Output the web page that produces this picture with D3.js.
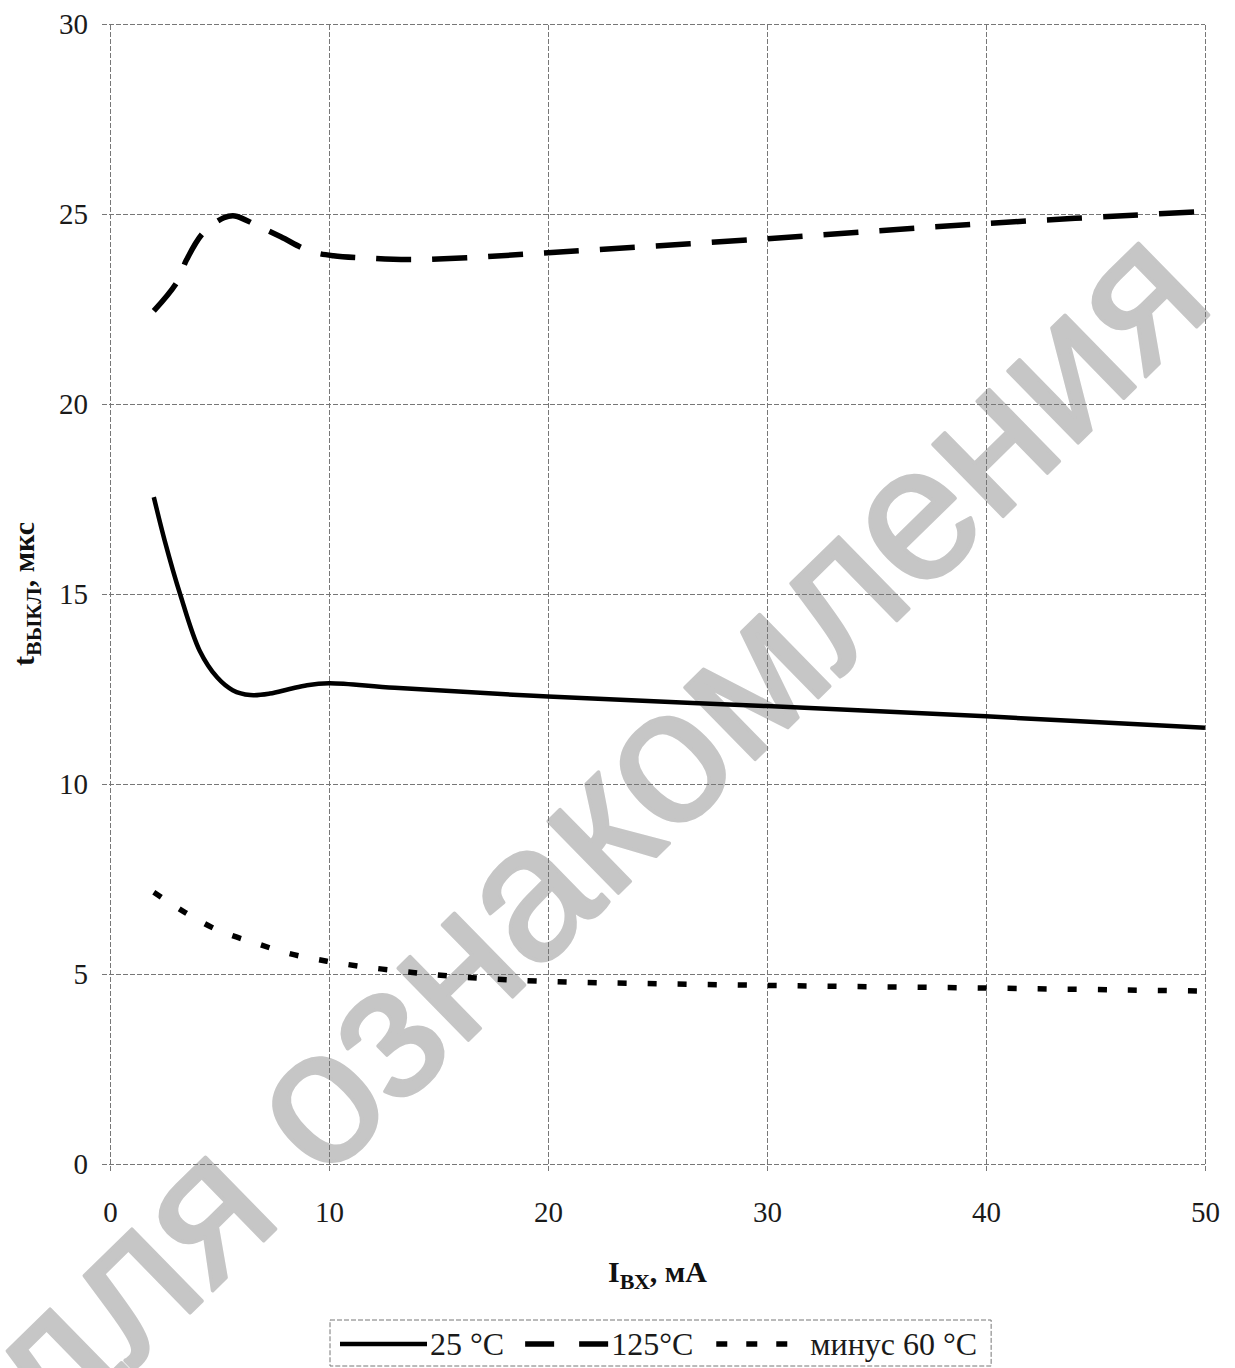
<!DOCTYPE html>
<html>
<head>
<meta charset="utf-8">
<script src="https://cdn.jsdelivr.net/npm/d3@7"></script>
<style>
body { margin: 0; background: #fff; }
svg { display: block; font-family: "Liberation Serif", "Times New Roman", serif; }
</style>
</head>
<body>
<svg id="chart" width="1235" height="1368"></svg>
<script>
(function () {
'use strict';

// values (I вх, мА -> t выкл, мкс)
var seriesNames = ['25 °C', '125°C', 'минус 60 °C'];

var x25 = [2, 2.5, 3.2, 4.1, 4.9, 5.6, 6.4, 7.3, 8.2, 9.0, 10.0, 13, 20, 30, 40, 50];
var y25 = [17.55, 16.4, 15.0, 13.5, 12.8, 12.47, 12.34, 12.38, 12.5, 12.6, 12.65, 12.53, 12.3, 12.05, 11.78, 11.48];

var x125 = [2, 3.05, 3.5, 4.25, 5.2, 5.7, 6.7, 7.8, 9.1, 10.2, 11.7, 13.6, 16.3, 20, 30, 40, 50];
var y125 = [22.45, 23.2, 23.8, 24.5, 24.9, 24.95, 24.7, 24.4, 24.03, 23.9, 23.84, 23.8, 23.85, 23.98, 24.35, 24.75, 25.07];

var xMinus60 = [2, 3.4, 4.9, 6.6, 8.1, 9.4, 10.4, 11.7, 13.2, 14.5, 15.9, 17.4, 20.2, 30, 40, 50];
var yMinus60 = [7.15, 6.63, 6.16, 5.82, 5.55, 5.39, 5.29, 5.18, 5.08, 5.0, 4.93, 4.87, 4.8, 4.7, 4.63, 4.55];

var xTicks = [0, 10, 20, 30, 40, 50];
var yTicks = [0, 5, 10, 15, 20, 25, 30];

var watermarkText = 'для ознакомления';

// styles, kept apart from the data
var lineStyles = [
    { dash: null, width: 4.5, legendLen: 87 },
    { dash: '29,25', width: 5.5, legendLen: 83, plotDash: '35,21' },
    { dash: '11,19', width: 5.5, legendLen: 71, plotDash: '9,21' }
];
var gridColor = '#777';
var gridDash = '5,2';

var svg = d3.select('#chart');
var margin = { top: 24, right: 30, bottom: 204, left: 110 };
var width = +svg.attr('width') - margin.left - margin.right;
var height = +svg.attr('height') - margin.top - margin.bottom;

var x = d3.scaleLinear().domain([0, 50]).range([0, width]);
var y = d3.scaleLinear().domain([0, 30]).range([height, 0]);

// watermark sits behind everything (the scan cuts it at the lower left corner)
svg.append('text')
    .attr('transform', 'translate(601,841) rotate(-44.4)')
    .attr('text-anchor', 'middle')
    .attr('dy', '0.26em')
    .style('font-family', '"Liberation Sans", Arial, sans-serif')
    .style('font-size', '190px')
    .attr('fill', '#c6c6c6')
    .attr('stroke', '#c6c6c6')
    .attr('stroke-width', 3.5)
    .attr('stroke-linejoin', 'round')
    .text(watermarkText);

var g = svg.append('g').attr('transform', 'translate(' + margin.left + ',' + margin.top + ')');

function styleAxis(sel) {
    sel.select('.domain').remove();
    sel.selectAll('.tick line')
        .attr('stroke', gridColor)
        .attr('stroke-width', 1)
        .attr('stroke-dasharray', gridDash);
    sel.selectAll('.tick text')
        .attr('fill', '#1a1a1a')
        .style('font-family', '"Liberation Serif", "Times New Roman", serif')
        .style('font-size', '29px');
}

g.append('g')
    .attr('transform', 'translate(-8,0)')
    .call(d3.axisLeft(y).tickValues(yTicks).tickSize(-(width + 8)).tickPadding(14))
    .call(styleAxis);

g.append('g')
    .attr('transform', 'translate(0,' + (height + 7) + ')')
    .call(d3.axisBottom(x).tickValues(xTicks).tickSize(-(height + 7)).tickPadding(30))
    .call(styleAxis);

var series = [
    d3.zip(x25, y25),
    d3.zip(x125, y125),
    d3.zip(xMinus60, yMinus60)
];

var line = d3.line()
    .x(function (d) { return x(d[0]); })
    .y(function (d) { return y(d[1]); })
    .curve(d3.curveCatmullRom.alpha(0.5));

g.selectAll('path.curve')
    .data(series)
    .enter().append('path')
    .attr('class', 'curve')
    .attr('d', line)
    .attr('fill', 'none')
    .attr('stroke', '#000')
    .attr('stroke-width', function (d, i) { return lineStyles[i].width; })
    .attr('stroke-dasharray', function (d, i) { return lineStyles[i].plotDash || null; });

// axis titles
var xTitle = svg.append('text')
    .attr('x', margin.left + width / 2)
    .attr('y', 1282)
    .attr('text-anchor', 'middle')
    .style('font-weight', 'bold')
    .style('font-size', '30px')
    .attr('fill', '#111');
xTitle.append('tspan').text('I');
xTitle.append('tspan').attr('dy', 7).style('font-size', '22px').text('ВХ');
xTitle.append('tspan').attr('dy', -7).text(', мА');

var yTitle = svg.append('text')
    .attr('transform', 'translate(34,' + (margin.top + height / 2) + ') rotate(-90)')
    .attr('text-anchor', 'middle')
    .style('font-weight', 'bold')
    .style('font-size', '30px')
    .attr('fill', '#111');
yTitle.append('tspan').text('t');
yTitle.append('tspan').attr('dy', 7).style('font-size', '22px').text('ВЫКЛ');
yTitle.append('tspan').attr('dy', -7).text(', мкс');

// legend
var legend = svg.append('g').attr('transform', 'translate(330,1320)');
var legendBox = legend.append('rect')
    .attr('height', 46)
    .attr('fill', '#fff')
    .attr('stroke', gridColor)
    .attr('stroke-width', 1)
    .attr('stroke-dasharray', gridDash);

var cursor = 10;
var gaps = [0, 21, 23];
seriesNames.forEach(function (name, i) {
    cursor += gaps[i];
    var st = lineStyles[i];
    legend.append('line')
        .attr('x1', cursor).attr('x2', cursor + st.legendLen)
        .attr('y1', 24).attr('y2', 24)
        .attr('stroke', '#000')
        .attr('stroke-width', st.width)
        .attr('stroke-dasharray', st.dash);
    cursor += st.legendLen + (i === 2 ? 23 : 3);
    var t = legend.append('text')
        .attr('x', cursor)
        .attr('y', 35)
        .style('font-size', '32px')
        .attr('fill', '#1a1a1a')
        .text(name);
    cursor += t.node().getComputedTextLength();
});
legendBox.attr('width', cursor + 14);
})();
</script>
</body>
</html>
